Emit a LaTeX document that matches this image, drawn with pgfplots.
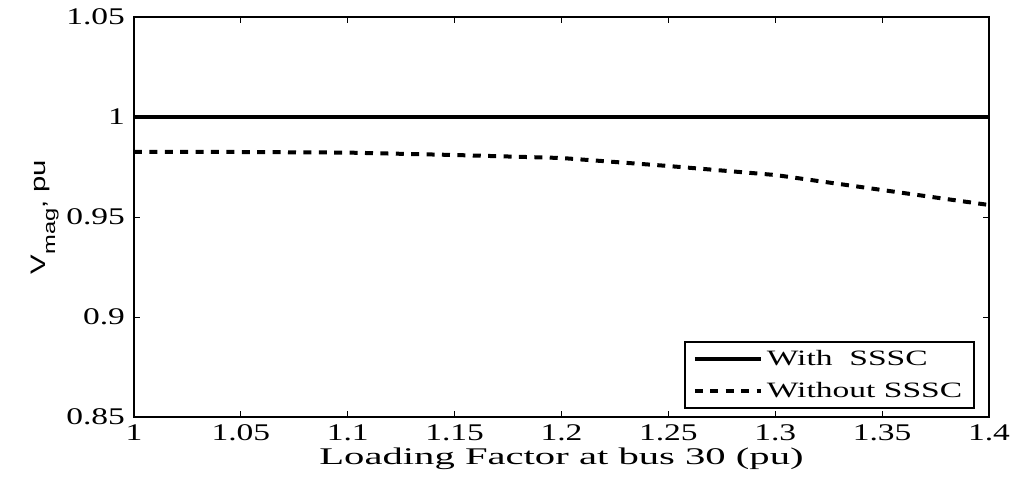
\documentclass[border=0pt]{standalone}
\usepackage{pgfplots}
\pgfplotsset{compat=1.18}
\usepackage{fontspec}
\setmainfont{Liberation Serif}[FakeStretch=1.4]
\newfontfamily\xlfont{Liberation Serif}[FakeStretch=1.7]
\newfontfamily\legfont{Liberation Serif}[FakeStretch=1.53]
\newfontfamily\ysans{Liberation Sans}[FakeStretch=1.4]
\begin{document}
\begin{tikzpicture}[x=1bp,y=1bp]
\begin{axis}[
  name=ax,
  scale only axis,
  width=427.5bp, height=200bp,
  xmin=1, xmax=1.4, ymin=0.85, ymax=1.05,
  xtick={1,1.05,...,1.4001},
  ytick={0.85,0.9,0.95,1,1.05},
  xticklabels={1,1.05,1.1,1.15,1.2,1.25,1.3,1.35,1.4},
  yticklabels={0.85,0.9,0.95,1,1.05},
  tick align=inside,
  major tick length=3bp,
  axis line style={line width=0.8pt},
  tick style={line width=0.5pt, black},
  every tick label/.append style={font=\fontsize{12}{14}\selectfont},
  xticklabel style={yshift=-0.5bp},
  yticklabel style={xshift=-1bp},
  xlabel={\xlfont Loading Factor at bus 30 (pu)},
  xlabel style={font=\fontsize{12}{14}\selectfont, yshift=3.5bp},
  ylabel={\ysans\fontsize{10.5}{12}\selectfont V\raisebox{-5bp}{\fontsize{8.5}{10}\selectfont mag}, pu},
  ylabel style={yshift=-3bp},
  legend style={at={(0.9836,0.02)}, anchor=south east, draw=black, line width=0.8pt,
    font=\fontsize{11}{12}\selectfont\legfont, inner xsep=4bp, inner ysep=2bp, row sep=3bp,
    legend cell align=left},
  legend image code/.code={\draw[#1, line width=2bp] (0bp,0bp) -- (33bp,0bp);},
]
\addplot[black, line width=2bp] coordinates {(1,1) (1.4,1)};
\addlegendentry{With\ \ SSSC\hspace{12bp}}
\addplot[black, line width=2bp, dash pattern=on 4bp off 3.7bp] coordinates {
(1.00,0.9825) (1.05,0.9825) (1.10,0.9822) (1.15,0.9810) (1.20,0.9795)
(1.25,0.9755) (1.30,0.9710) (1.35,0.9635) (1.40,0.9560)};
\addlegendentry{Without SSSC\hspace{12bp}}
\end{axis}
\path (ax.south west) ++(-67bp,-30.5bp) rectangle ++(509.5bp,239bp);
\end{tikzpicture}
\end{document}
